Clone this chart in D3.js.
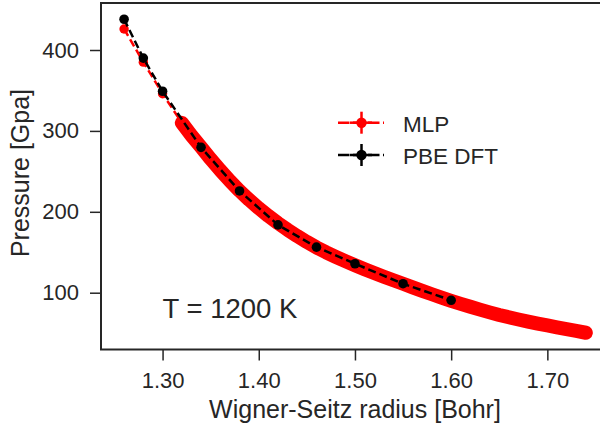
<!DOCTYPE html>
<html>
<head>
<meta charset="utf-8">
<script src="https://cdn.jsdelivr.net/npm/d3@7"></script>
<style>
  body { margin: 0; background: #fff; }
  svg { display: block; font-family: 'Liberation Sans', Arial, sans-serif; }
</style>
</head>
<body>
<div id="chart"></div>
<script>
// PBE DFT reference points
const dftRadius = [1.26, 1.28, 1.30, 1.34, 1.38, 1.42, 1.46, 1.50, 1.55, 1.60]
const dftPressure = [438, 390, 349, 279.7, 225.8, 183.8, 156.3, 135.8, 111.1, 90.6]

// MLP points (sparse start, then dense run)
const mlpRadius = [1.26, 1.28, 1.30,
  1.32, 1.33, 1.34, 1.35, 1.36, 1.37, 1.38, 1.39, 1.40, 1.41, 1.42, 1.43, 1.44, 1.45,
  1.46, 1.47, 1.48, 1.49, 1.50, 1.51, 1.52, 1.53, 1.54, 1.55, 1.56, 1.57, 1.58, 1.59,
  1.60, 1.61, 1.62, 1.63, 1.64, 1.65, 1.66, 1.67, 1.68, 1.69, 1.70, 1.71, 1.72, 1.73, 1.74]
const mlpPressure = [426, 385, 346,
  310, 294.4, 280, 265.2, 251.3, 238.2, 226.0, 214.8, 204.5, 194.9, 186.0, 177.7, 170.0, 162.8,
  156.0, 149.9, 144.3, 139.0, 134.0, 129.1, 124.4, 119.8, 115.4, 111.0, 106.6, 102.3, 98.1, 94.0,
  90.0, 86.2, 82.6, 79.1, 75.7, 72.5, 69.6, 66.9, 64.3, 61.8, 59.5, 57.2, 54.9, 52.7, 50.5]
const denseStart = 1.32

const xTicks = [1.30, 1.40, 1.50, 1.60, 1.70]
const yTicks = [100, 200, 300, 400]

const ink = '#262626'
const width = 600
const height = 425
const plot = {left: 101, right: 607, top: 3, bottom: 349.5}

const svg = d3.select('#chart').append('svg')
  .attr('width', width)
  .attr('height', height)

const xScale = d3.scaleLinear()
  .domain([1.236, 1.762])
  .range([plot.left, plot.right])
const yScale = d3.scaleLinear()
  .domain([29.8, 458.1])
  .range([plot.bottom, plot.top])

let mlp = mlpRadius.map((r, i) => ({x: r, y: mlpPressure[i]}))
let dft = dftRadius.map((r, i) => ({x: r, y: dftPressure[i]}))
let line = d3.line().x(d => xScale(d.x)).y(d => yScale(d.y))

// axes
let xaxis = svg.append('g')
  .attr('transform', `translate(0,${plot.bottom})`)
  .call(d3.axisBottom(xScale).tickValues(xTicks).tickFormat(d3.format('.2f')).tickSize(11).tickPadding(12))
let yaxis = svg.append('g')
  .attr('transform', `translate(${plot.left},0)`)
  .call(d3.axisLeft(yScale).tickValues(yTicks).tickSize(11).tickPadding(11))
;[xaxis, yaxis].forEach(a => {
  a.select('.domain').remove()
  a.selectAll('line').style('stroke', ink).style('stroke-width', 1.5)
  a.selectAll('text').style('fill', ink).style('font-size', '22px')
    .style('font-family', "'Liberation Sans', Arial, sans-serif")
})

// spines
svg.append('rect')
  .attr('x', plot.left)
  .attr('y', plot.top)
  .attr('width', plot.right - plot.left)
  .attr('height', plot.bottom - plot.top)
  .style('fill', 'none')
  .style('stroke', ink)
  .style('stroke-width', 2)

// MLP
svg.append('path')
  .datum(mlp)
  .attr('d', line)
  .style('fill', 'none')
  .style('stroke', 'red')
  .style('stroke-width', 2.5)
  .style('stroke-dasharray', '8,4')
svg.append('path')
  .datum(mlp.filter(d => d.x >= denseStart))
  .attr('d', line)
  .style('fill', 'none')
  .style('stroke', 'red')
  .style('stroke-width', 14)
  .style('stroke-linecap', 'round')
  .style('stroke-linejoin', 'round')
svg.append('g')
  .selectAll('circle')
  .data(mlp)
  .enter()
  .append('circle')
  .attr('r', 4.7)
  .attr('cx', d => xScale(d.x))
  .attr('cy', d => yScale(d.y))
  .style('fill', 'red')

// PBE DFT
svg.append('path')
  .datum(dft)
  .attr('d', line)
  .style('fill', 'none')
  .style('stroke', 'black')
  .style('stroke-width', 2.5)
  .style('stroke-dasharray', '8,4')
svg.append('g')
  .selectAll('circle')
  .data(dft)
  .enter()
  .append('circle')
  .attr('r', 4.8)
  .attr('cx', d => xScale(d.x))
  .attr('cy', d => yScale(d.y))
  .style('fill', 'black')

// labels
svg.append('text')
  .attr('x', 355)
  .attr('y', 418)
  .attr('text-anchor', 'middle')
  .style('font-size', '25px')
  .style('fill', ink)
  .text('Wigner-Seitz radius [Bohr]')
svg.append('text')
  .attr('transform', 'translate(29,173) rotate(-90)')
  .attr('text-anchor', 'middle')
  .style('font-size', '25px')
  .style('fill', ink)
  .text('Pressure [Gpa]')
svg.append('text')
  .attr('x', xScale(1.30))
  .attr('y', yScale(69))
  .style('font-size', '27.5px')
  .style('fill', ink)
  .text('T = 1200 K')

// legend
const legendItems = [{label: 'MLP', color: 'red', y: 122.7}, {label: 'PBE DFT', color: 'black', y: 155}]
let lg = svg.append('g')
legendItems.forEach(item => {
  lg.append('line')
    .attr('x1', 338).attr('x2', 384)
    .attr('y1', item.y).attr('y2', item.y)
    .style('stroke', item.color)
    .style('stroke-width', 2.5)
    .style('stroke-dasharray', '11.5,3.5')
  lg.append('line')
    .attr('x1', 350).attr('x2', 372)
    .attr('y1', item.y).attr('y2', item.y)
    .style('stroke', item.color)
    .style('stroke-width', 2.5)
  lg.append('line')
    .attr('x1', 361.5).attr('x2', 361.5)
    .attr('y1', item.y - 11).attr('y2', item.y + 11)
    .style('stroke', item.color)
    .style('stroke-width', 2.5)
  lg.append('circle')
    .attr('cx', 361.5).attr('cy', item.y)
    .attr('r', 5.2)
    .style('fill', item.color)
  lg.append('text')
    .attr('x', 403)
    .attr('y', item.y + 9)
    .style('font-size', '22.5px')
    .style('fill', ink)
    .text(item.label)
})
</script>
</body>
</html>
